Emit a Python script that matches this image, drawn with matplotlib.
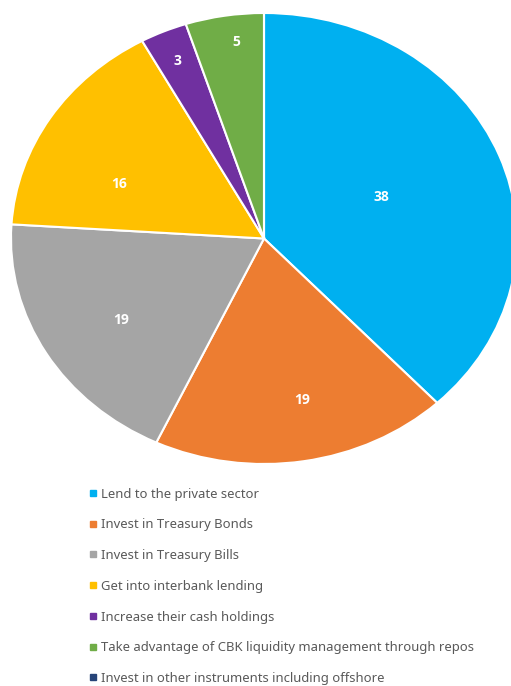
import numpy as np
import matplotlib.pyplot as plt
from matplotlib.lines import Line2D

plt.rcParams['font.family'] = ['Noto Sans', 'DejaVu Sans']

# data
categories = ['Lend to the private sector',
              'Invest in Treasury Bonds',
              'Invest in Treasury Bills',
              'Get into interbank lending',
              'Increase their cash holdings',
              'Take advantage of CBK liquidity management through repos',
              'Invest in other instruments including offshore']
shares = [38, 19, 19, 16, 3, 5, 0]
colors = ['#00b0f0', '#ed7d31', '#a5a5a5', '#ffc000', '#7030a0', '#70ad47', '#264478']
# where each value label sits: fraction of radius, and turn off the mid angle (deg)
label_r = [0.50, 0.73, 0.67, 0.62, 0.86, 0.88, 0.7]
label_turn = [0, 2.8, 2, 9.5, 0, -1.8, 0]

fig = plt.figure(figsize=(5.11, 6.86), dpi=100)
W, H = 511, 686
# pie is drawn stretched wide, like the original
left, right, top, bottom = 11, 517, 13, 464
ax = fig.add_axes([left / W, 1 - bottom / H, (right - left) / W, (bottom - top) / H])

wedges, _ = ax.pie(shares, colors=colors, startangle=90, counterclock=False,
                   wedgeprops=dict(edgecolor='white', linewidth=1.5))
ax.set_aspect('auto')
ax.set_xlim(-1, 1)
ax.set_ylim(-1, 1)
ax.axis('off')

for w, val, r, t in zip(wedges, shares, label_r, label_turn):
    if val == 0:
        continue
    ang = np.deg2rad((w.theta1 + w.theta2) / 2 + t)
    ax.text(r * np.cos(ang), r * np.sin(ang), str(val), ha='center', va='center',
            color='white', fontsize=10, fontweight='bold', family='Open Sans')

handles = [Line2D([], [], marker='s', linestyle='none', markersize=4.3,
                  markerfacecolor=c, markeredgecolor=c) for c in colors]
leg = fig.legend(handles, categories, loc='upper left',
                 bbox_to_anchor=(83 / W, 1 - 481 / H), frameon=False,
                 fontsize=9.4, labelcolor='#595959', handlelength=0.6,
                 handletextpad=0.28, labelspacing=1.36, borderpad=0)

fig.savefig('out.png', dpi=100)
